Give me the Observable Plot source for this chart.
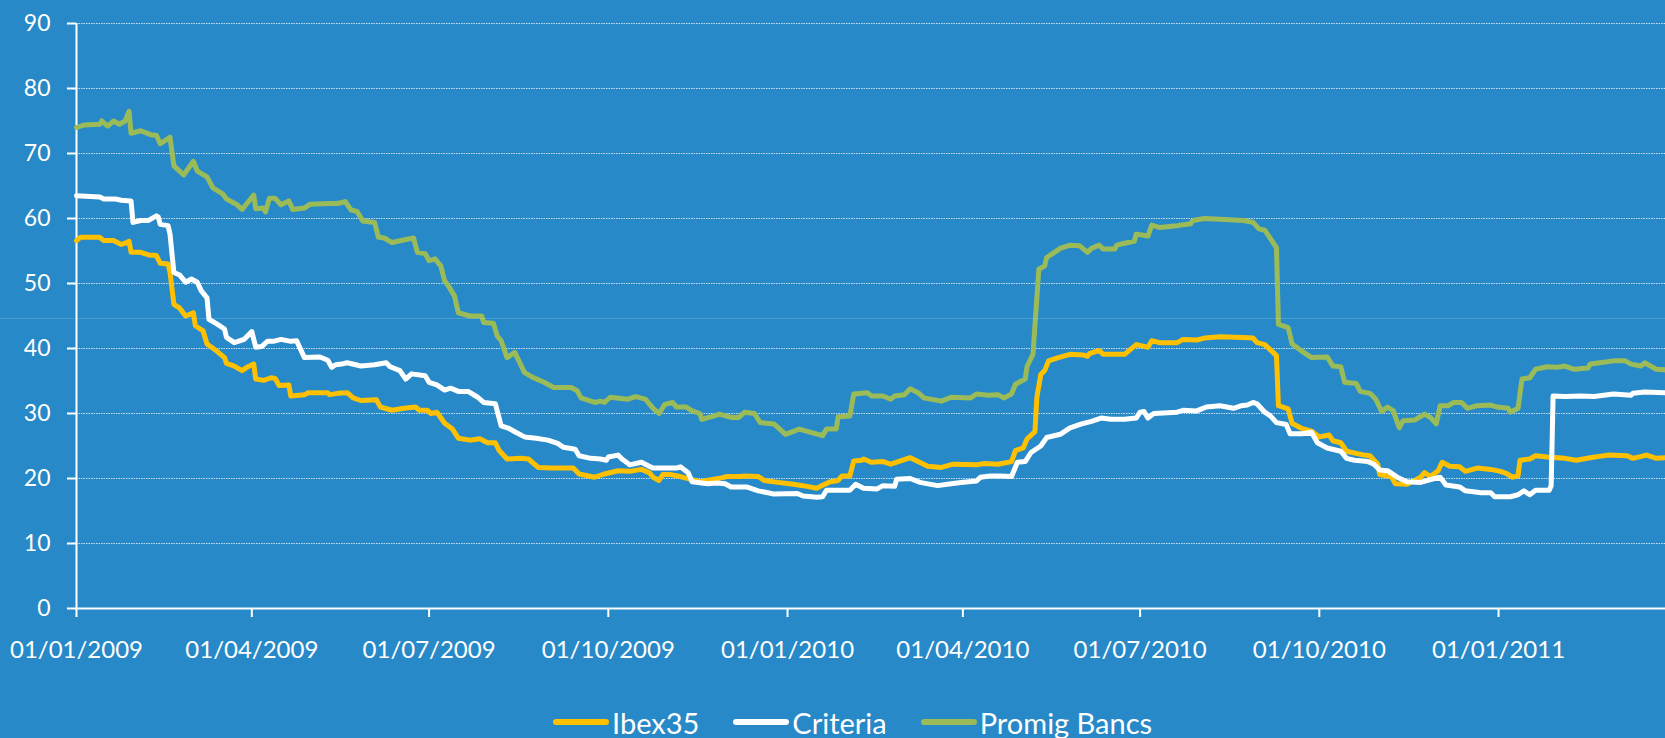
<!DOCTYPE html>
<html>
<head>
<meta charset="utf-8">
<script src="https://cdn.jsdelivr.net/npm/d3@7"></script>
<script src="https://cdn.jsdelivr.net/npm/@observablehq/plot@0.6"></script>
<style>
  html, body { margin: 0; padding: 0; background: #2789c7; width: 1665px; height: 738px; overflow: hidden; }
  #wrap { position: relative; width: 1665px; height: 738px; }
  #legend { position: absolute; left: 553px; top: 704px; height: 36px; display: flex; align-items: center;
            font-family: Lato, "Open Sans", sans-serif; font-size: 29px; color: #fff; white-space: nowrap; }
  .item { display: flex; align-items: center; margin-right: 34px; }
  .sw { width: 56px; height: 6px; border-radius: 3px; margin-right: 3px; }
  #seam { position: absolute; left: 0; top: 318px; width: 1665px; height: 1px; background: rgba(255,255,255,0.16); }
</style>
</head>
<body>
<div id="wrap"><div id="chart"></div><div id="legend"></div><div id="seam"></div></div>
<script>
// Series names and colours
const seriesNames = ["Ibex35", "Criteria", "Promig Bancs"];
const seriesColors = ["#ffc000", "#ffffff", "#9bbb59"];

// Y axis ticks
const yTicks = [0, 10, 20, 30, 40, 50, 60, 70, 80, 90];
// X axis tick dates
const xTickDates = ["2009-01-01", "2009-04-01", "2009-07-01", "2009-10-01", "2010-01-01", "2010-04-01", "2010-07-01", "2010-10-01", "2011-01-01"];

// Observations: day offset from 01/01/2009, and value
const ibexDays = [0,2,12,14,19,23,25,27,28,33,37,41,43,47,48,50,53,56,60,61,65,67,72,76,77,81,85,88,91,92,96,100,102,104,109,110,117,119,129,130,134,139,142,146,154,156,162,168,174,176,180,182,185,189,193,196,202,207,211,215,217,221,228,232,237,244,255,258,266,269,271,278,284,290,294,296,299,301,305,310,315,320,331,334,341,343,350,353,360,368,373,380,384,387,391,393,397,399,403,404,408,414,418,423,428,432,437,444,450,462,466,473,480,482,486,488,492,493,495,497,499,504,510,517,519,520,525,527,536,538,544,550,552,556,565,568,575,579,587,599,604,606,610,616,617,622,624,629,634,638,643,645,649,652,661,664,668,669,675,677,683,690,692,695,699,701,705,710,713,719,726,731,734,737,740,741,746,749,755,764,770,777,786,796,799,806,811,816];
const ibexValues = [56.6,57.1,57.1,56.6,56.6,56.0,56.2,56.5,54.8,54.8,54.4,54.3,53.1,53.0,51.7,46.8,46.2,45.0,45.5,43.5,42.7,40.7,39.6,38.6,37.7,37.3,36.6,37.2,37.6,35.3,35.1,35.5,35.4,34.3,34.4,32.7,32.9,33.2,33.2,32.9,33.1,33.2,32.4,32.0,32.1,31.0,30.5,30.8,31.0,30.5,30.5,30.0,30.2,28.5,27.6,26.2,25.9,26.1,25.5,25.5,24.3,23.0,23.1,23.0,21.7,21.6,21.6,20.7,20.2,20.5,20.7,21.2,21.1,21.4,20.9,20.2,19.7,20.6,20.6,20.3,19.9,19.5,20.1,20.3,20.3,20.4,20.3,19.7,19.4,19.1,18.9,18.5,19.1,19.5,19.7,20.4,20.4,22.7,22.8,23.0,22.5,22.6,22.2,22.7,23.2,22.6,21.9,21.7,22.2,22.1,22.3,22.2,22.6,24.3,24.7,26.1,27.2,32.5,36.0,36.6,38.1,38.6,39.1,39.0,38.8,39.2,39.7,39.1,39.1,39.1,40.6,40.2,41.2,40.9,40.9,41.4,41.3,41.6,41.8,41.7,41.6,40.9,40.6,38.9,31.2,30.7,28.5,27.7,27.3,26.4,26.7,25.8,25.5,24.2,23.6,23.5,22.2,20.6,20.3,19.2,19.1,20.2,20.9,20.3,21.2,22.5,21.9,21.8,21.1,21.6,21.4,21.1,20.8,20.2,20.4,22.8,23.0,23.5,23.3,23.1,22.8,23.2,23.6,23.5,23.1,23.6,23.1,23.2];

const criteriaDays = [0,12,14,20,23,28,29,33,37,41,42,43,47,48,50,53,56,59,62,64,67,68,72,76,77,81,86,90,92,95,98,101,105,110,113,117,125,129,131,133,136,139,146,153,159,161,166,169,172,179,181,185,189,192,196,201,206,209,215,218,222,225,230,236,242,247,250,256,258,264,269,272,273,278,280,284,290,294,296,308,310,314,316,324,329,333,336,344,350,355,358,370,373,380,383,385,397,400,404,411,414,420,421,428,433,442,449,454,462,464,469,474,480,483,487,490,495,498,505,510,516,521,526,531,538,544,546,548,550,553,565,568,575,580,587,594,598,601,604,606,610,613,616,621,623,629,634,637,642,649,652,656,663,666,669,673,678,683,690,697,700,703,710,713,721,726,728,736,740,743,746,749,756,757,758,764,772,779,789,798,799,805,816];
const criteriaValues = [63.5,63.3,63.0,63.0,62.8,62.7,59.4,59.7,59.7,60.4,60.2,59.1,58.9,57.6,51.7,51.3,50.2,50.7,50.2,48.9,47.8,44.5,43.8,43.0,41.7,40.9,41.4,42.6,40.2,40.3,41.1,41.1,41.4,41.1,41.2,38.6,38.7,38.2,37.1,37.5,37.6,37.8,37.3,37.5,37.8,37.2,36.6,35.3,36.1,35.8,34.8,34.4,33.6,33.9,33.4,33.4,32.5,31.7,31.5,28.1,27.7,27.2,26.4,26.2,25.9,25.4,24.8,24.5,23.5,23.1,23.0,22.8,23.3,23.6,23.0,22.1,22.5,21.9,21.6,21.6,21.8,20.9,19.5,19.2,19.3,19.2,18.7,18.7,18.1,17.8,17.6,17.7,17.3,17.1,17.2,18.2,18.2,19.1,18.5,18.4,18.9,18.8,19.9,20.0,19.4,18.9,19.2,19.4,19.6,20.2,20.4,20.4,20.3,22.5,22.6,24.0,25.0,26.3,26.8,27.8,28.4,28.8,29.3,29.1,29.1,29.3,30.2,30.3,29.3,30.0,30.2,30.5,30.4,31.0,31.2,30.8,31.2,31.3,31.7,31.5,30.2,29.6,28.6,28.3,26.9,26.9,27.1,25.5,24.7,24.2,23.1,22.8,22.6,22.2,21.3,21.2,20.2,19.5,19.4,20.0,20.2,19.0,18.7,18.1,17.8,17.8,17.2,17.2,17.5,18.1,17.5,18.2,18.2,18.9,32.7,32.6,32.7,32.6,33.0,32.8,33.1,33.3,33.2];

const bancsDays = [0,4,12,13,16,19,22,25,27,28,33,38,41,43,48,50,55,60,62,67,70,75,77,82,85,88,91,92,96,97,99,102,105,109,111,117,120,130,134,138,141,144,147,153,155,158,162,168,173,175,179,181,184,187,189,191,194,196,202,208,209,214,216,218,221,225,230,234,240,245,254,257,259,266,269,271,274,283,287,292,296,299,302,306,308,313,316,320,321,327,330,336,340,343,348,351,358,364,371,377,383,385,390,391,397,399,406,408,414,418,420,425,428,432,435,444,449,459,462,468,473,476,480,482,487,488,491,494,497,498,502,505,510,515,519,521,525,527,533,534,538,543,544,550,552,556,565,572,573,579,587,599,604,607,610,616,617,622,624,629,634,642,645,649,651,657,659,664,667,670,673,676,679,681,687,692,695,698,700,704,707,711,714,719,726,729,735,736,740,742,746,749,755,760,764,769,776,777,782,789,795,798,803,805,811,816];
const bancsValues = [74.0,74.4,74.5,75.0,74.2,75.0,74.5,75.0,76.5,73.1,73.5,72.9,72.8,71.5,72.5,68.1,66.7,68.8,67.3,66.4,64.7,63.8,63.0,62.2,61.4,62.5,63.6,61.5,61.6,61.0,63.1,63.1,62.1,62.7,61.4,61.6,62.2,62.3,62.3,62.6,61.3,61.1,59.6,59.4,57.1,57.0,56.3,56.7,57.0,54.8,54.6,53.5,53.8,52.7,50.4,49.6,48.1,45.5,45.0,45.0,44.0,43.9,41.9,41.2,38.6,39.4,36.3,35.6,34.8,34.0,34.0,33.5,32.4,31.7,31.9,31.7,32.5,32.2,32.6,32.2,30.8,30.0,31.4,31.7,31.0,31.0,30.4,30.0,29.1,29.6,29.9,29.4,29.4,30.2,30.0,28.6,28.4,26.8,27.6,27.1,26.6,27.6,27.6,29.5,29.6,33.0,33.2,32.7,32.7,32.2,32.7,32.9,33.8,33.2,32.4,31.9,32.5,32.4,33.0,32.8,32.9,32.4,33.0,34.5,35.3,37.3,39.1,52.2,52.7,54.0,54.8,55.4,55.9,55.8,54.8,55.4,55.9,55.3,55.3,55.9,56.2,56.5,57.6,57.3,59.0,58.6,58.9,59.2,59.7,60.0,59.9,59.7,59.4,58.4,58.2,55.5,43.7,43.2,40.7,39.6,38.6,38.7,37.3,37.2,34.8,34.6,33.4,33.1,32.2,30.3,31.0,30.4,27.8,28.9,29.0,29.9,29.4,28.4,31.2,31.2,31.7,31.7,30.8,31.2,31.3,31.0,30.8,30.2,30.8,35.3,35.5,36.8,37.2,37.1,37.3,36.8,37.0,37.6,37.8,38.1,38.1,37.6,37.3,37.8,36.8,36.7];

// Build table
const START = Date.UTC(2009, 0, 1);
const toDate = d => new Date(START + d * 864e5);
const seriesDays = [ibexDays, criteriaDays, bancsDays];
const seriesValues = [ibexValues, criteriaValues, bancsValues];
const rows = [];
seriesNames.forEach((name, k) => {
  seriesDays[k].forEach((d, i) => rows.push({series: name, date: toDate(d), value: seriesValues[k][i]}));
});
const tickDates = xTickDates.map(s => new Date(s + "T00:00:00Z"));
const fmt = d3.utcFormat("%d/%m/%Y");

const chart = Plot.plot({
  width: 1665,
  height: 690,
  marginLeft: 76,
  marginRight: 0,
  marginTop: 23,
  marginBottom: 82,
  style: {background: "transparent", color: "#ffffff", fontFamily: "Lato, 'Open Sans', sans-serif", overflow: "visible"},
  x: {type: "utc", domain: [toDate(0), toDate(815.7)]},
  y: {domain: [0, 90]},
  color: {domain: seriesNames, range: seriesColors},
  marks: [
    Plot.gridY(yTicks.filter(v => v > 0), {stroke: "#d8e9f6", strokeOpacity: 0.9, strokeWidth: 1, strokeDasharray: "1.5,1"}),
    Plot.axisY({ticks: yTicks, tickSize: 9, tickPadding: 17, fontSize: 23, strokeWidth: 2, label: null, fill: "#ffffff", stroke: "#ffffff"}),
    Plot.axisX({ticks: tickDates, tickFormat: fmt, tickSize: 9, tickPadding: 23, fontSize: 24, strokeWidth: 2, label: null, fill: "#ffffff", stroke: "#ffffff"}),
    Plot.ruleY([0], {stroke: "#ffffff", strokeWidth: 2}),
    Plot.ruleX([toDate(0)], {y1: 0, y2: 90, stroke: "#ffffff", strokeWidth: 2}),
    Plot.line(rows, {x: "date", y: "value", z: "series", stroke: "series", strokeWidth: 5, strokeLinejoin: "round", strokeLinecap: "round"})
  ]
});
document.getElementById("chart").appendChild(chart);

// Legend
const legend = document.getElementById("legend");
seriesNames.forEach((name, k) => {
  const item = document.createElement("div");
  item.className = "item";
  const sw = document.createElement("span");
  sw.className = "sw";
  sw.style.background = seriesColors[k];
  const t = document.createElement("span");
  t.textContent = name;
  item.appendChild(sw);
  item.appendChild(t);
  legend.appendChild(item);
});
</script>
</body>
</html>
